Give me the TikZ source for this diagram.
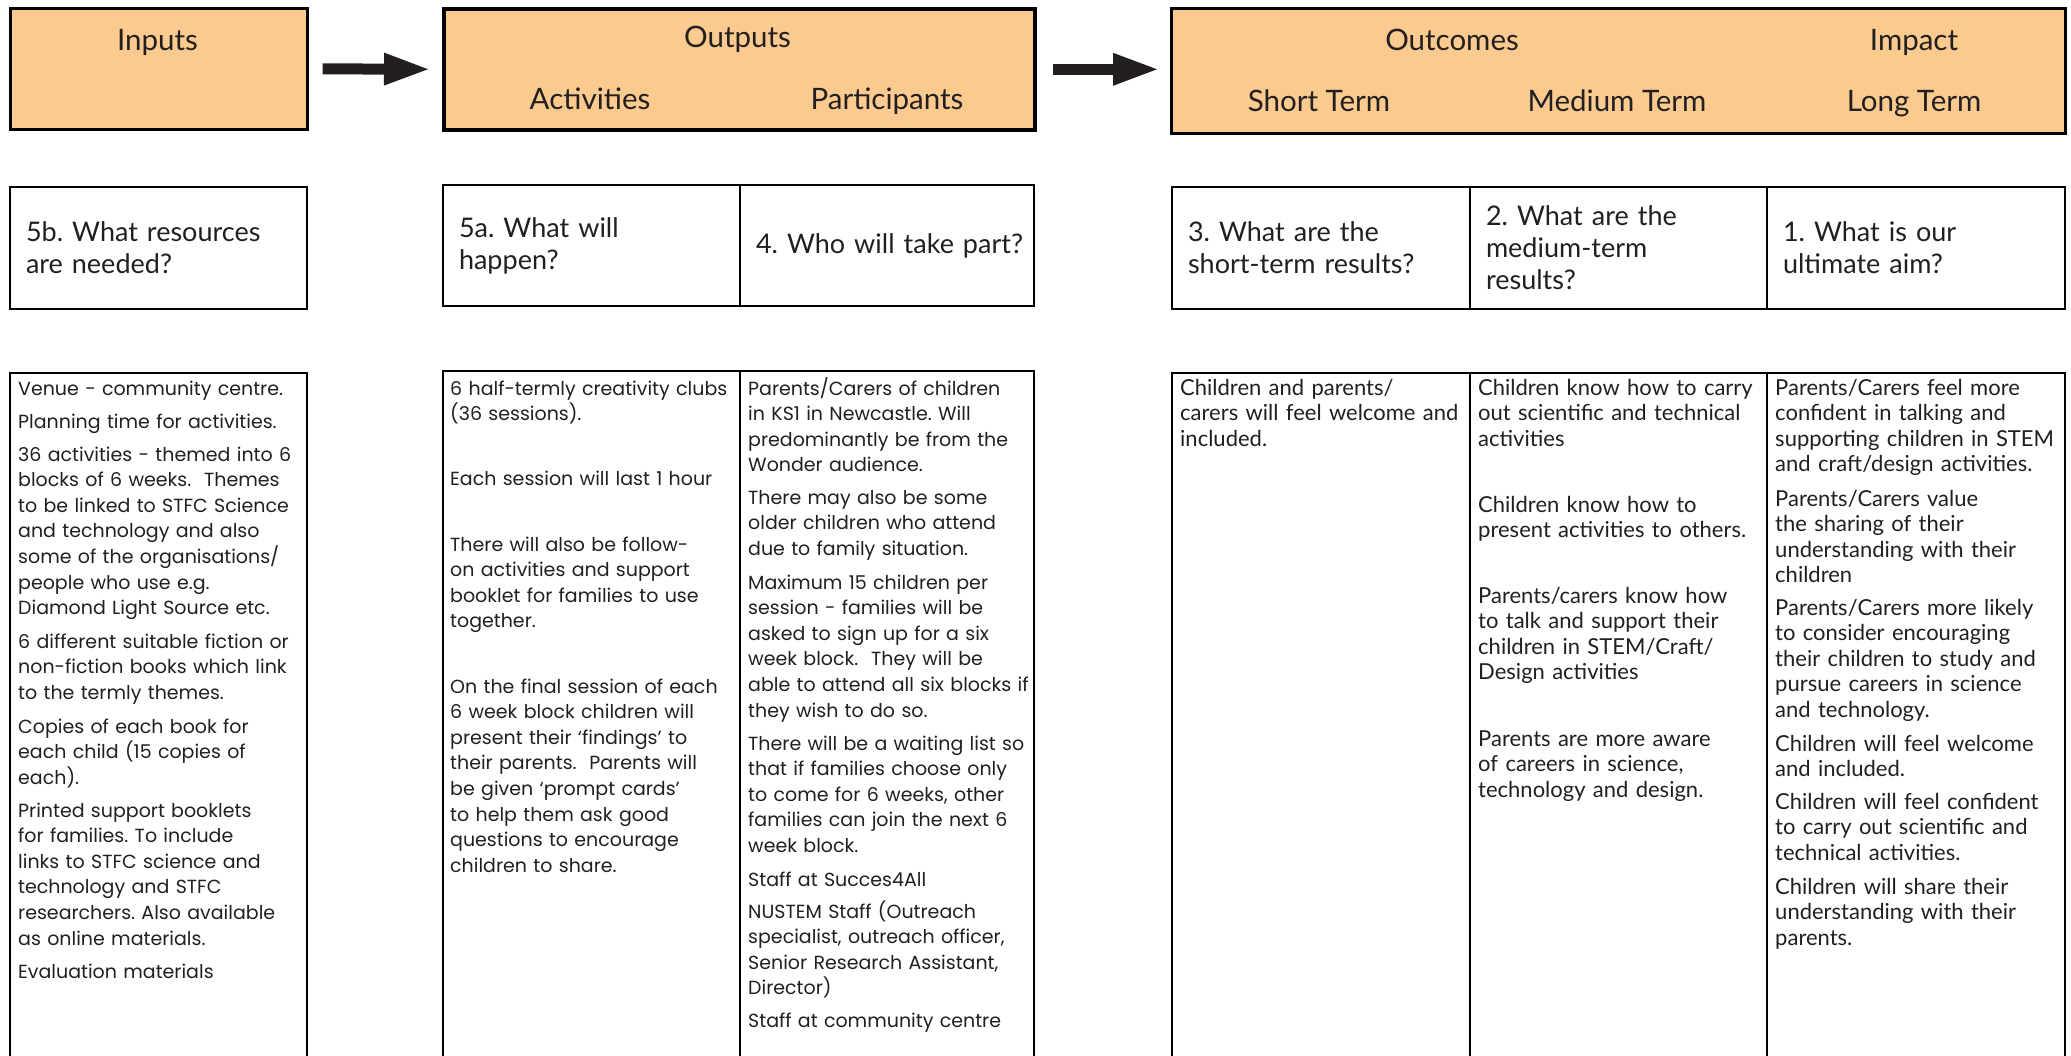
\documentclass[tikz,border=0pt]{standalone}
\usepackage{fontspec}
\setmainfont{Lato}
\newfontfamily\widefont{Poppins}
\usetikzlibrary{arrows.meta}
\definecolor{boxfill}{RGB}{250,202,142}
\definecolor{ink}{RGB}{35,31,32}

\begin{document}
\frenchspacing
\begin{tikzpicture}[x=1pt,y=-1pt,
  hdrbox/.style={draw=black, fill=boxfill, inner sep=0pt, anchor=north west},
  hdrtext/.style={font=\fontsize{29.5}{32}\selectfont, text=ink, inner sep=0pt, anchor=base},
  qcell/.style={draw=black, line width=2pt, inner xsep=16pt, inner ysep=0pt,
    anchor=north west, align=left, text=ink, font=\fontsize{27}{32}\selectfont},
  bodycell/.style={draw=black, line width=2pt, inner sep=0pt, anchor=north west, minimum height=760pt},
  wpara/.style={font=\widefont\fontsize{19}{25.6}\selectfont, text=ink, inner sep=0pt,
    anchor=base west, align=left, text width=400pt},
  npara/.style={font=\fontsize{22}{25.6}\selectfont, text=ink, inner sep=0pt,
    anchor=base west, align=left, text width=400pt},
  fatarrow/.style={draw=ink, line width=11pt,
    -{Triangle[length=44pt, width=33pt, line width=0pt]}}
]
\useasboundingbox (0,0) rectangle (2071,1056);
\clip (0,0) rectangle (2071,1056);
\fill[white] (0,0) rectangle (2071,1056);

% ---- header row ----
\node[hdrbox, line width=2.6pt, minimum width=297pt, minimum height=121pt] (inputs) at (9,7) {};
\node[hdrbox, line width=3.6pt, minimum width=591pt, minimum height=121pt] (outputs) at (442,7) {};
\node[hdrbox, line width=3.4pt, minimum width=894pt, minimum height=125pt] (outcomes) at (1170,7) {};

\node[hdrtext] (t-inputs) at (157.5,51) {Inputs};
\node[hdrtext] (t-outputs) at (737.5,48) {Outputs};
\node[hdrtext] (t-activities) at (590,110) {Activities};
\node[hdrtext] (t-participants) at (887,110) {Participants};
\node[hdrtext] (t-outcomes) at (1452,51) {Outcomes};
\node[hdrtext] (t-impact) at (1914,51) {Impact};
\node[hdrtext] (t-short) at (1319,112) {Short Term};
\node[hdrtext] (t-medium) at (1617,112) {Medium Term};
\node[hdrtext] (t-long) at (1914,112) {Long Term};

\draw[fatarrow, shorten <=14pt, shorten >=14pt] (inputs.east) -- (outputs.west);
\draw[fatarrow, shorten <=16pt, shorten >=13pt] (outputs.east) -- (outputs.east -| outcomes.west);

% ---- question row ----
\node[qcell, text width=265pt, minimum height=122pt] (q5b) at (9,186) {5b. What resources\\are needed?};
\node[qcell, text width=265pt, minimum height=121pt] (q5a) at (442,184) {5a. What will\\happen?};
\node[qcell, text width=262pt, minimum height=121pt] (q4) at (739,184) {4.~Who~will~take~part?};
\node[qcell, text width=266pt, minimum height=122pt] (q3) at (1171,186) {3. What are the\\short-term results?};
\node[qcell, text width=265pt, minimum height=122pt] (q2) at (1469,186) {2. What are the\\medium-term\\results?};
\node[qcell, text width=266pt, minimum height=122pt] (q1) at (1766,186) {1. What is our\\ultimate aim?};

% ---- body row (cells run off the bottom edge) ----
\node[bodycell, minimum width=297pt] (c-in) at (9,372) {};
\node[bodycell, minimum width=297pt] (c-act) at (442,370) {};
\node[bodycell, minimum width=294pt] (c-part) at (739,370) {};
\node[bodycell, minimum width=298pt] (c-short) at (1171,372) {};
\node[bodycell, minimum width=297pt] (c-med) at (1469,372) {};
\node[bodycell, minimum width=298pt] (c-long) at (1766,372) {};

% Inputs
\node[wpara] (in1) at (18,395) {Venue - community centre.};
\node[wpara] (in2) at (18,428) {Planning time for activities.};
\node[wpara] (in3) at (18,461) {36 activities - themed into 6\\blocks of 6 weeks.~ Themes\\to be linked to STFC Science\\and technology and also\\some of the organisations/\\people who use e.g.\\Diamond Light Source etc.};
\node[wpara] (in4) at (18,648) {6 different suitable fiction or\\non-fiction books which link\\to the termly themes.};
\node[wpara] (in5) at (18,733) {Copies of each book for\\each child (15 copies of\\each).};
\node[wpara] (in6) at (18,817) {Printed support booklets\\for families. To include\\links to STFC science and\\technology and STFC\\researchers. Also available\\as online materials.};
\node[wpara] (in7) at (18,978) {Evaluation materials};

% Activities
\node[wpara] (ac1) at (450,395) {6 half-termly creativity clubs\\(36 sessions).};
\node[wpara] (ac2) at (450,485) {Each session will last 1 hour};
\node[wpara] (ac3) at (450,551) {There will also be follow-\\on activities and support\\booklet for families to use\\together.};
\node[wpara] (ac4) at (450,693) {On the final session of each\\6 week block children will\\present their ‘findings’ to\\their parents.~ Parents will\\be given ‘prompt cards’\\to help them ask good\\questions to encourage\\children to share.};

% Participants
\node[wpara] (pa1) at (748,395) {Parents/Carers of children\\in KS1 in Newcastle. Will\\predominantly be from the\\Wonder audience.};
\node[wpara] (pa2) at (748,504) {There may also be some\\older children who attend\\due to family situation.};
\node[wpara] (pa3) at (748,589) {Maximum 15 children per\\session - families will be\\asked to sign up for a six\\week block.~ They will be\\able to attend all six blocks if\\they wish to do so.};
\node[wpara] (pa4) at (748,750) {There will be a waiting list so\\that if families choose only\\to come for 6 weeks, other\\families can join the next 6\\week block.};
\node[wpara] (pa5) at (748,886) {Staff at Succes4All};
\node[wpara] (pa6) at (748,918) {NUSTEM Staff (Outreach\\specialist, outreach officer,\\Senior Research Assistant,\\Director)};
\node[wpara] (pa7) at (748,1027) {Staff at community centre};

% Short term
\node[npara] (st1) at (1180,395) {Children and parents/\\carers will feel welcome and\\included.};

% Medium term
\node[npara] (md1) at (1478,395) {Children know how to carry\\out scientific and technical\\activities};
\node[npara] (md2) at (1478,512) {Children know how to\\present activities to others.};
\node[npara] (md3) at (1478,603) {Parents/carers know how\\to talk and support their\\children in STEM/Craft/\\Design activities};
\node[npara] (md4) at (1478,746) {Parents are more aware\\of careers in science,\\technology and design.};

% Long term
\node[npara] (lg1) at (1775,395) {Parents/Carers feel more\\confident in talking and\\supporting children in STEM\\and craft/design activities.};
\node[npara] (lg2) at (1775,506) {Parents/Carers value\\the sharing of their\\understanding with their\\children};
\node[npara] (lg3) at (1775,615) {Parents/Carers more likely\\to consider encouraging\\their children to study and\\pursue careers in science\\and technology.};
\node[npara] (lg4) at (1775,751) {Children will feel welcome\\and included.};
\node[npara] (lg5) at (1775,809) {Children will feel confident\\to carry out scientific and\\technical activities.};
\node[npara] (lg6) at (1775,894) {Children will share their\\understanding with their\\parents.};
\end{tikzpicture}
\end{document}
